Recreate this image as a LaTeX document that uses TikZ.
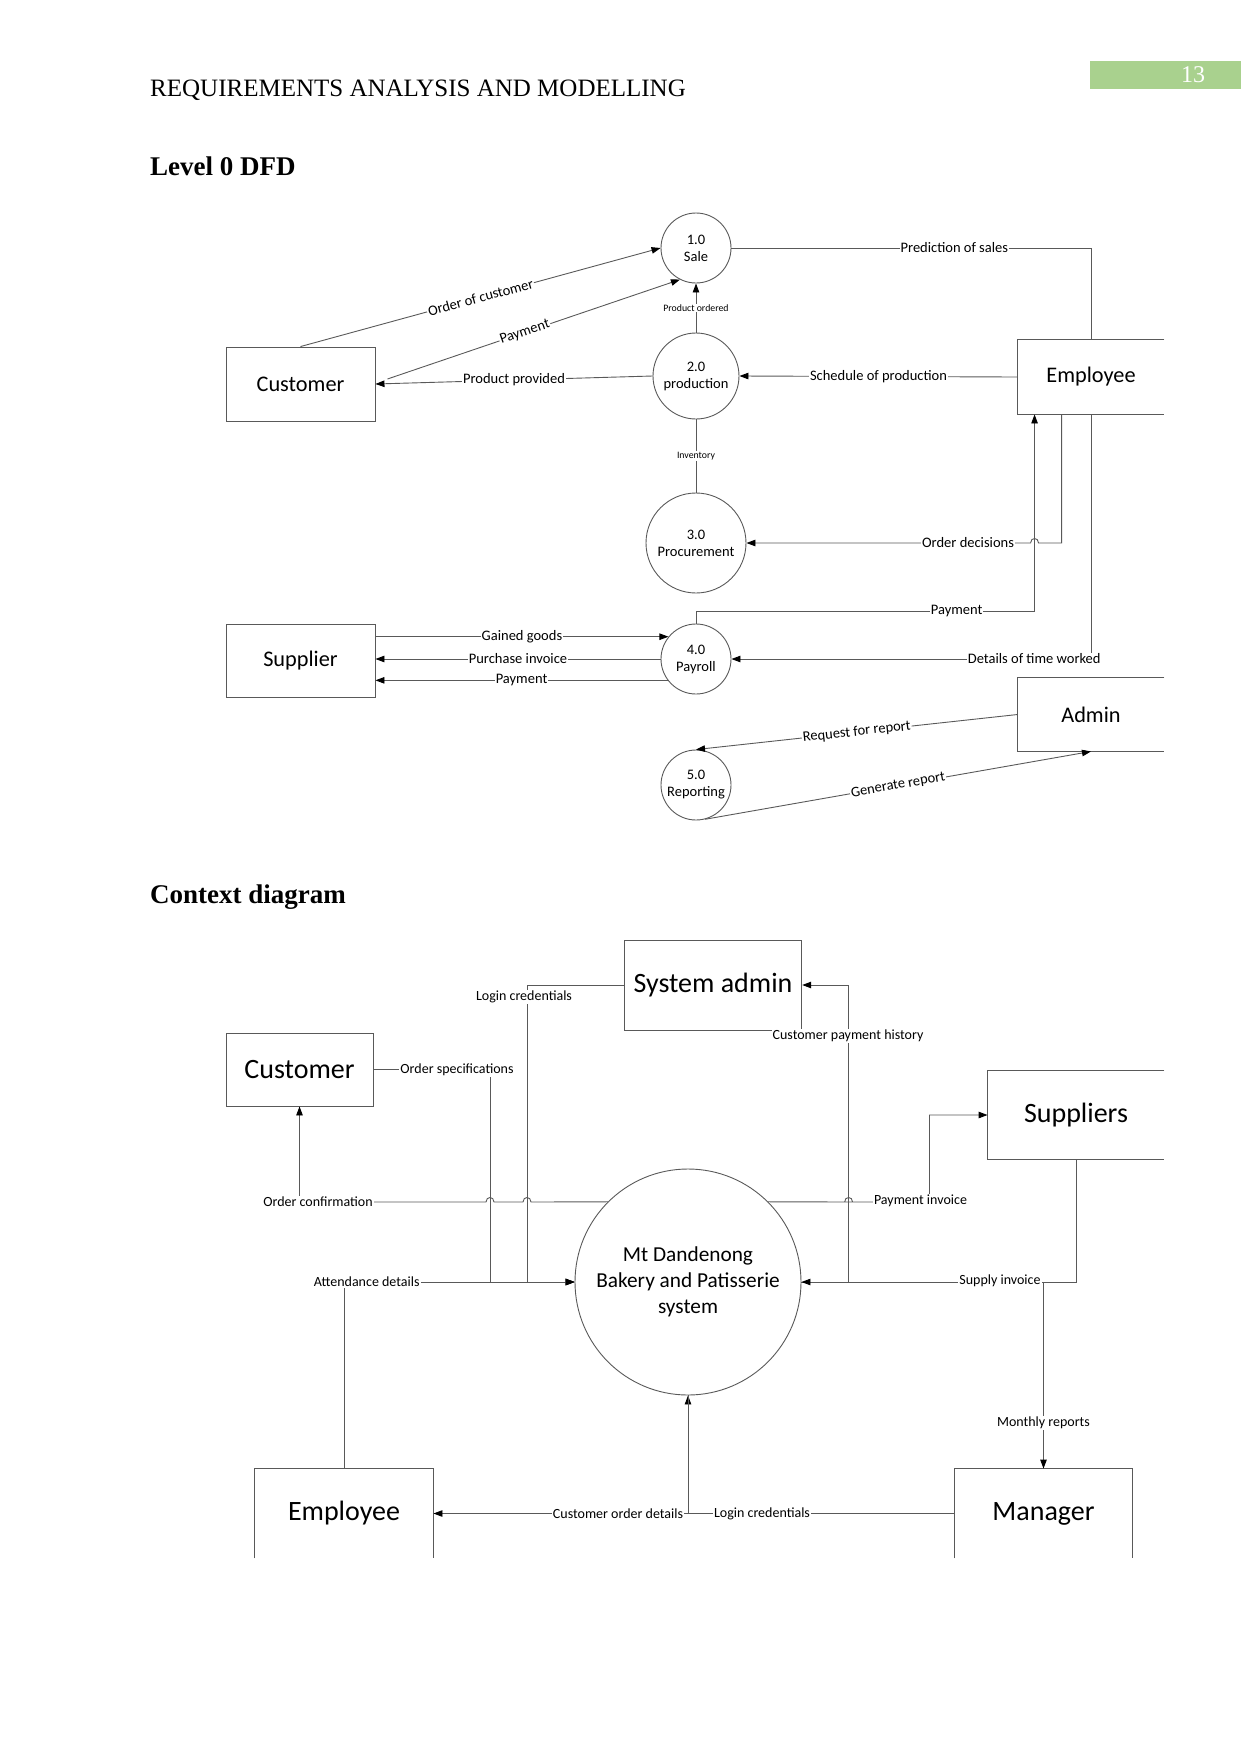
\documentclass[tikz,border=0pt]{standalone}
\usepackage{fontspec}
\setmainfont{Liberation Serif}
\newfontfamily\dfd{Carlito}
\usetikzlibrary{arrows.meta,calc}
\definecolor{pagegreen}{RGB}{169,209,142}
\begin{document}
\begin{tikzpicture}[x=1pt,y=-1pt,
  ln/.style={draw=black!65,line width=0.9pt},
  arr/.style={ln,-{Triangle[length=9pt,width=6.5pt,color=black]}},
  lbl/.style={fill=white,inner sep=1pt,text=black,font=\dfd\fontsize{14.5}{16}\selectfont},
  clbl/.style={fill=white,inner sep=1pt,text=black,font=\dfd\fontsize{14}{16}\selectfont},
  tlbl/.style={fill=white,inner sep=1pt,text=black,font=\dfd\fontsize{9.8}{11}\selectfont},
  entbox/.style={draw=black!65,line width=0.9pt,inner sep=0pt,font=\dfd\fontsize{22.3}{26}\selectfont},
  centbox/.style={draw=black!65,line width=0.9pt,inner sep=0pt,font=\dfd\fontsize{28}{32}\selectfont},
  proc/.style={circle,draw=black!65,line width=0.9pt,inner sep=0pt,align=center,font=\dfd\fontsize{14.5}{17}\selectfont},
]
\useasboundingbox (0,0) rectangle (1241,1754);

% ---------- page header ----------
\node[anchor=base west,inner sep=0pt,font=\fontsize{25}{29}\selectfont] (hdr) at (150,96.7) {REQUIREMENTS ANALYSIS AND MODELLING};
\fill[pagegreen] (1090,61) rectangle (1241,89);
\node[inner sep=0pt,text=white,font=\fontsize{24}{28}\selectfont] (pgno) at (1193,75) {13};
\node[anchor=base west,inner sep=0pt,font=\bfseries\fontsize{27}{31}\selectfont] (t1) at (150,175) {Level 0 DFD};
\node[anchor=base west,inner sep=0pt,font=\bfseries\fontsize{27}{31}\selectfont] (t2) at (150,903) {Context diagram};

% ---------- Level 0 DFD ----------
\node[entbox,minimum width=149pt,minimum height=74pt] (cust) at (300.5,384) {Customer};
\node[entbox,minimum width=149pt,minimum height=73pt] (supp) at (300.5,660.5) {Supplier};
\node[entbox,draw=none,minimum width=146pt,minimum height=74pt] (emp) at (1091,377) {Employee};
\draw[ln] (emp.north east) -- (emp.north west) -- (emp.south west) -- (emp.south east);
\node[entbox,draw=none,minimum width=146pt,minimum height=73pt] (adm) at (1091,714.5) {Admin};
\draw[ln] (adm.north east) -- (adm.north west) -- (adm.south west) -- (adm.south east);

\node[proc,minimum size=70pt] (sale) at (696,248) {1.0\\Sale};
\node[proc,minimum size=86pt] (prod) at (696,376) {2.0\\production};
\node[proc,minimum size=100pt] (pcm) at (696,543) {3.0\\Procurement};
\node[proc,minimum size=70pt] (pay) at (696,659) {4.0\\Payroll};
\node[proc,minimum size=70pt] (rep) at (696,785) {5.0\\Reporting};

\draw[arr] (cust.north) -- node[lbl,sloped] {Order of customer} (sale.west);
\draw[arr] ($(cust.east)+(12,-5)$) -- node[lbl,sloped,pos=0.47] {Payment} (sale.243);
\draw[arr] (prod.west) -- node[lbl] {Product provided} (cust.east);
\draw[arr] (prod.north) -- node[tlbl] {Product ordered} (sale.south);
\draw[ln] (sale.east) -| node[lbl,pos=0.31] {Prediction of sales} (emp.north);
\draw[arr] (emp.west) -- node[lbl] {Schedule of production} (prod.east);
\draw[ln] (prod.south) -- node[tlbl] {Inventory} (pcm.north);
\draw[arr] ([xshift=44pt]emp.south west) -- ([xshift=44pt]emp.south west |- pcm.east)
   -- ([xshift=21pt]emp.south west |- pcm.east)
   .. controls ([xshift=21pt,yshift=6pt]emp.south west |- pcm.east) and ([xshift=13pt,yshift=6pt]emp.south west |- pcm.east) .. ([xshift=13pt]emp.south west |- pcm.east)
   -- node[lbl,pos=0.22] {Order decisions} (pcm.east);
\coordinate (payturn) at (696,611);
\draw[arr] (pay.north) -- (payturn) -- node[lbl,pos=0.77] {Payment} ([xshift=17pt]emp.south west |- payturn) -- ([xshift=17pt]emp.south west);
\draw[arr] (emp.south) |- node[lbl,pos=0.579] {Details of time worked} (pay.east);
\draw[arr] (supp.east |- pay.141) -- node[lbl] {Gained goods} (pay.141);
\draw[arr] (pay.west) -- node[lbl] {Purchase invoice} (supp.east |- pay.west);
\draw[arr] (pay.217) -- node[lbl] {Payment} (supp.east |- pay.217);
\draw[arr] (adm.west) -- node[lbl,sloped] {Request for report} (rep.north);
\draw[arr] (rep.285) -- node[lbl,sloped] {Generate report} (adm.south);

% ---------- Context diagram ----------
\node[centbox,minimum width=177.5pt,minimum height=90pt] (sa) at (713,985) {System admin};
\node[centbox,minimum width=147pt,minimum height=73pt] (cc) at (299.5,1069.5) {Customer};
\node[centbox,draw=none,minimum width=176pt,minimum height=88pt] (sup) at (1076,1115) {Suppliers};
\draw[ln] (sup.north east) -- (sup.north west) -- (sup.south west) -- (sup.south east);
\node[centbox,draw=none,minimum width=178pt,minimum height=89pt] (ce) at (344,1513.5) {Employee};
\draw[ln] (ce.south west) -- (ce.north west) -- (ce.north east) -- (ce.south east);
\node[centbox,draw=none,minimum width=177pt,minimum height=89pt] (mg) at (1043.5,1513.5) {Manager};
\draw[ln] (mg.south west) -- (mg.north west) -- (mg.north east) -- (mg.south east);
\node[circle,draw=black!65,line width=0.9pt,minimum size=226pt,inner sep=0pt,align=center,font=\dfd\fontsize{21.3}{25.7}\selectfont] (sys) at (688,1282) {Mt Dandenong\\Bakery and Patisserie\\system};

\coordinate (jlog) at (527,1282);
\coordinate (jspec) at (490,1282);
\coordinate (jcph) at (848.6,1282);
\coordinate (jmon) at (1043.5,1282);
\coordinate (jinv) at (929.5,1202);
\coordinate (jbot) at (688,1513.5);

\draw[arr] (sa.west) -| (jlog) -- (sys.west);
\draw[arr] (cc.east) -| (jspec) -- (sys.west);
\draw[arr] (sys.135) -- (531,1202) .. controls (531,1196) and (523,1196) .. (523,1202)
   -- (494,1202) .. controls (494,1196) and (486,1196) .. (486,1202) -| (cc.south);
\draw[arr] (sys.45) -- (852.6,1202) .. controls (852.6,1196) and (844.6,1196) .. (844.6,1202)
   -- (jinv) |- (sup.west);
\draw[arr] (sys.east) -- (jcph) |- (sa.east);
\draw[arr] (sup.south) |- (sys.east);
\draw[arr] (jmon) -- (mg.north);
\draw[arr] (ce.north) |- (sys.west);
\draw[arr] (mg.west) -- (jbot) -- (sys.south);
\draw[arr] (sys.south) -- (jbot) -- (ce.east);

\node[clbl] (l1) at (524,997) {Login credentials};
\node[clbl] (l2) at (457,1070) {Order specifications};
\node[clbl] (l3) at (318,1202) {Order confirmation};
\node[clbl] (l4) at (920.5,1201) {Payment invoice};
\node[clbl] (l5) at (848,1036) {Customer payment history};
\node[clbl] (l6) at (1000,1281) {Supply invoice};
\node[clbl] (l7) at (1043.5,1423) {Monthly reports};
\node[clbl] (l8) at (366.7,1282) {Attendance details};
\node[clbl] (l9) at (762,1513.5) {Login credentials};
\node[clbl] (l10) at (618,1513.5) {Customer order details};
\end{tikzpicture}
\end{document}
